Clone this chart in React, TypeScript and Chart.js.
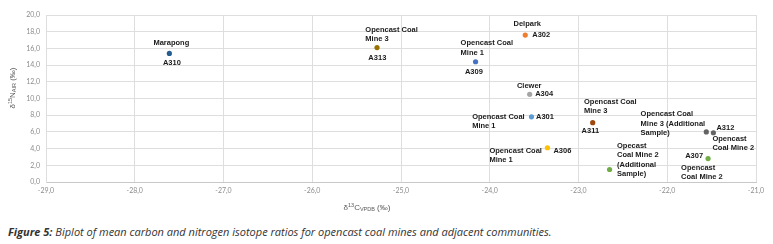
import React, { useEffect, useRef } from "react";
import { Chart, registerables } from "chart.js";

Chart.register(...registerables);

// ---- data ----
const sampleIds = ["A310", "A313", "A309", "A302", "A304", "A301", "A306", "A311", "", "", "A312", "A307"];
const siteNames = [
  "Marapong",
  "Opencast Coal Mine 3",
  "Opencast Coal Mine 1",
  "Delpark",
  "Clewer",
  "Opencast Coal Mine 1",
  "Opencast Coal Mine 1",
  "Opencast Coal Mine 3",
  "Opecast Coal Mine 2 (Additional Sample)",
  "Opencast Coal Mine 3 (Additional Sample)",
  "Opencast Coal Mine 2",
  "Opencast Coal Mine 2",
];
const d13C = [-27.61, -25.27, -24.16, -23.6, -23.55, -23.53, -23.35, -22.84, -22.65, -21.56, -21.48, -21.54];
const d15N = [15.4, 16.1, 14.4, 17.6, 10.5, 7.8, 4.1, 7.1, 1.5, 6.0, 5.9, 2.8];
const xTicksMin = -29;
const xTicksMax = -21;
const yTicksMin = 0;
const yTicksMax = 20;

// ---- styles / layout ----
const pointColors = [
  "#255e91", "#997300", "#4472c4", "#ed7d31", "#a5a5a5", "#5b9bd5",
  "#ffc000", "#9e480e", "#70ad47", "#636363", "#636363", "#70ad47",
];

type Lbl = { dx: number; dy: number; align: CanvasTextAlign; words?: number[] };
const labelLayout: { name: Lbl; id?: Lbl }[] = [
  { name: { dx: 2, dy: -10, align: "center", words: [1] }, id: { dx: 2.5, dy: 9.5, align: "center" } },
  { name: { dx: -11.7, dy: -17.7, align: "left", words: [2, 1] }, id: { dx: 0.3, dy: 10.6, align: "center" } },
  { name: { dx: -15, dy: -18.4, align: "left", words: [2, 1] }, id: { dx: -1.7, dy: 10, align: "center" } },
  { name: { dx: 2, dy: -10.7, align: "center", words: [1] }, id: { dx: 7, dy: 0, align: "left" } },
  { name: { dx: -0.5, dy: -8.3, align: "center", words: [1] }, id: { dx: 5.5, dy: 0, align: "left" } },
  { name: { dx: -59.3, dy: 0, align: "left", words: [2, 1] }, id: { dx: 4.5, dy: 0, align: "left" } },
  { name: { dx: -58, dy: 2.7, align: "left", words: [2, 1] }, id: { dx: 6, dy: 2.7, align: "left" } },
  { name: { dx: -8.7, dy: -21, align: "left", words: [2, 1] }, id: { dx: -2.4, dy: 8.7, align: "center" } },
  { name: { dx: 7.4, dy: -23.6, align: "left", words: [1, 3, 1, 1] } },
  { name: { dx: -65.7, dy: -17.7, align: "left", words: [2, 3, 1] } },
  { name: { dx: -1, dy: 6, align: "left", words: [1, 3] }, id: { dx: 3, dy: -5, align: "left" } },
  { name: { dx: -27, dy: 9.3, align: "left", words: [1, 3] }, id: { dx: -5, dy: -2.7, align: "right" } },
];

const LABEL_FONT = "bold 7.5px 'Liberation Sans', Arial, sans-serif";
const LINE_H = 9.3;

function splitWords(text: string, counts: number[] = [99]): string[] {
  const w = text.split(" ");
  const out: string[] = [];
  let i = 0;
  for (const c of counts) {
    if (i >= w.length) break;
    out.push(w.slice(i, i + c).join(" "));
    i += c;
  }
  if (i < w.length) out[out.length - 1] += " " + w.slice(i).join(" ");
  return out;
}

const pointLabelPlugin = {
  id: "pointLabels",
  afterDatasetsDraw(chart: any) {
    const ctx = chart.ctx as CanvasRenderingContext2D;
    const meta = chart.getDatasetMeta(0);
    ctx.save();
    ctx.font = LABEL_FONT;
    ctx.fillStyle = "#1a1a1a";
    ctx.textBaseline = "middle";
    meta.data.forEach((pt: any, i: number) => {
      const lay = labelLayout[i];
      if (!lay) return;
      const lines = splitWords(siteNames[i], lay.name.words);
      ctx.textAlign = lay.name.align;
      lines.forEach((ln, k) => {
        ctx.fillText(ln, pt.x + lay.name.dx, pt.y + lay.name.dy + k * LINE_H);
      });
      if (lay.id && sampleIds[i]) {
        ctx.textAlign = lay.id.align;
        ctx.fillText(sampleIds[i], pt.x + lay.id.dx, pt.y + lay.id.dy);
      }
    });
    ctx.restore();
  },
};

type Part = { t: string; size: number; dy: number };
function drawRich(ctx: CanvasRenderingContext2D, parts: Part[], cx: number, cy: number) {
  const fam = "'Liberation Sans', Arial, sans-serif";
  let total = 0;
  for (const p of parts) {
    ctx.font = `${p.size}px ${fam}`;
    total += ctx.measureText(p.t).width;
  }
  let x = cx - total / 2;
  ctx.textAlign = "left";
  ctx.textBaseline = "middle";
  for (const p of parts) {
    ctx.font = `${p.size}px ${fam}`;
    ctx.fillText(p.t, x, cy + p.dy);
    x += ctx.measureText(p.t).width;
  }
}

const axisTitlePlugin = {
  id: "axisTitles",
  afterDraw(chart: any) {
    const ctx = chart.ctx as CanvasRenderingContext2D;
    const a = chart.chartArea;
    ctx.save();
    ctx.fillStyle = "#595959";
    drawRich(
      ctx,
      [
        { t: "δ", size: 8, dy: 0 },
        { t: "13", size: 5.5, dy: -2.5 },
        { t: "C", size: 8, dy: 0 },
        { t: "VPDB", size: 5.5, dy: 1.5 },
        { t: " (‰)", size: 8, dy: 0 },
      ],
      a.left + 321,
      a.bottom + 26
    );
    ctx.translate(a.left - 33, a.top + 73);
    ctx.rotate(-Math.PI / 2);
    drawRich(
      ctx,
      [
        { t: "δ", size: 8, dy: 0 },
        { t: "15", size: 5.5, dy: -2.5 },
        { t: "N", size: 8, dy: 0 },
        { t: "AIR", size: 5.5, dy: 1.5 },
        { t: " (‰)", size: 8, dy: 0 },
      ],
      0,
      0
    );
    ctx.restore();
  },
};

const fmt = (v: any) => Number(v).toFixed(1).replace(".", ",");

export default function App() {
  const ref = useRef<HTMLCanvasElement>(null);
  useEffect(() => {
    if (!ref.current) return;
    const tickFont = { family: "Lato, 'Liberation Sans', sans-serif", size: 7 };
    const chart = new Chart(ref.current, {
      type: "scatter",
      data: {
        datasets: [
          {
            label: "δ13C vs δ15N",
            data: d13C.map((x, i) => ({ x, y: d15N[i] })),
            pointBackgroundColor: pointColors,
            pointBorderWidth: 0,
            pointRadius: 2.6,
          },
        ],
      },
      options: {
        animation: false,
        responsive: false,
        devicePixelRatio: 1,
        layout: { padding: { top: 15, right: 17, left: 0, bottom: 0 } },
        plugins: { legend: { display: false }, tooltip: { enabled: false } },
        scales: {
          x: {
            type: "linear",
            min: xTicksMin,
            max: xTicksMax,
            ticks: { stepSize: 1, callback: fmt, color: "#8c8c8c", font: tickFont, padding: 5, maxRotation: 0 },
            grid: { color: "#dedede", drawTicks: false },
            border: { color: "#c8c8c8" },
            afterFit: (s: any) => {
              s.height = 38;
            },
          },
          y: {
            type: "linear",
            min: yTicksMin,
            max: yTicksMax,
            ticks: { stepSize: 2, callback: fmt, color: "#8c8c8c", font: tickFont, padding: 6 },
            grid: { color: "#dedede", drawTicks: false },
            border: { color: "#dedede" },
            afterFit: (s: any) => {
              s.width = 46;
            },
          },
        },
      } as any,
      plugins: [pointLabelPlugin, axisTitlePlugin],
    });
    return () => chart.destroy();
  }, []);

  return (
    <div style={{ position: "fixed", left: 0, top: 0, width: 773, height: 244, background: "#fff" }}>
      <canvas ref={ref} width={773} height={220} style={{ display: "block", width: 773, height: 220 }} />
      <div
        style={{
          position: "absolute",
          left: 8,
          top: 224,
          fontFamily: "'Open Sans', sans-serif",
          fontStyle: "italic",
          fontSize: 11,
          lineHeight: "15px",
          color: "#333",
          whiteSpace: "nowrap",
        }}
      >
        <b>Figure 5:</b> Biplot of mean carbon and nitrogen isotope ratios for opencast coal mines and adjacent communities.
      </div>
    </div>
  );
}
